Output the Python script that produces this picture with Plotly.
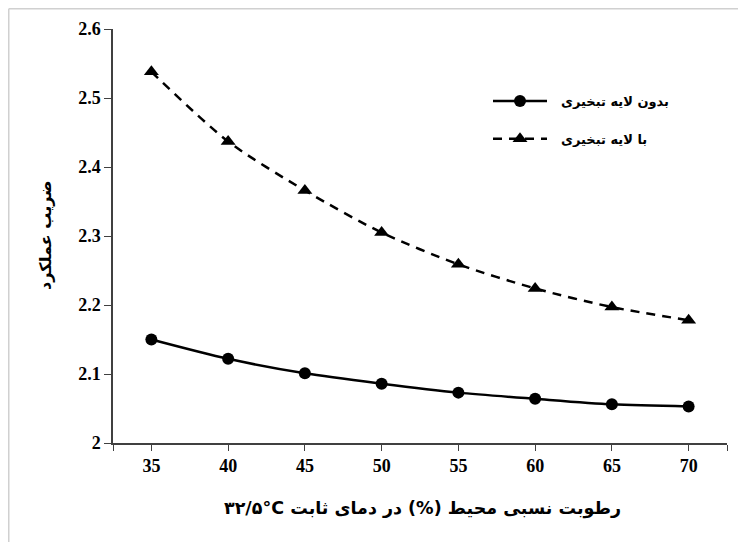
import plotly.graph_objects as go

humidity = [35, 40, 45, 50, 55, 60, 65, 70]
cop_without_layer = [2.150, 2.122, 2.101, 2.086, 2.073, 2.064, 2.056, 2.053]
cop_with_layer = [2.538, 2.437, 2.366, 2.305, 2.259, 2.224, 2.197, 2.178]
name_without = "بدون لایه تبخیری"
name_with = "با لایه تبخیری"
# logical order arranged so the LTR SVG paragraph shows the temperature on the left
x_title = "۳۲/۵°C " + "رطوبت نسبی محیط (%) در دمای ثابت"
y_title = "ضریب عملکرد"
y_ticks = [2.0, 2.1, 2.2, 2.3, 2.4, 2.5, 2.6]
y_ticktext = ["2", "2.1", "2.2", "2.3", "2.4", "2.5", "2.6"]

W, H = 746, 542
L, R, T, B = 105, 27, 21, 107
pw, ph = W - L - R, H - T - B

SERIF = "Liberation Serif, Times New Roman, serif"
ARABIC = "DejaVu Sans"
PAD = "\u00a0\u00a0"

fig = go.Figure()
fig.add_trace(go.Scatter(
    x=humidity, y=cop_without_layer, name=PAD + name_without, mode="lines+markers",
    legendgroup="a",
    line=dict(color="black", width=2.5, shape="spline", smoothing=0.8),
    marker=dict(symbol="circle", size=12, color="black"),
))
fig.add_trace(go.Scatter(
    x=humidity, y=cop_with_layer, name=PAD + name_with, mode="lines+markers",
    legendgroup="b",
    line=dict(color="black", width=2.5, dash="9px,7px", shape="spline", smoothing=0.8),
    marker=dict(symbol="triangle-up", size=13, color="black"),
))

x_tickvals = [32.5] + humidity + [72.5]
x_ticktext = [""] + [str(h) for h in humidity] + [""]

def px_to_paper(px, py):
    return (px - L) / pw, (H - B - py) / ph

fig.update_layout(
    width=W, height=H,
    margin=dict(l=L, r=R, t=T, b=B),
    paper_bgcolor="white", plot_bgcolor="white",
    showlegend=True,
    legend=dict(x=px_to_paper(480, 0)[0], y=px_to_paper(0, 78)[1], xanchor="left", yanchor="top",
                font=dict(family=ARABIC, size=13, color="black", weight="bold"),
                bgcolor="rgba(0,0,0,0)", itemwidth=54, tracegroupgap=18),
    xaxis=dict(range=[32.5, 72.5], tickvals=x_tickvals, ticktext=x_ticktext,
               showgrid=False, zeroline=False, showline=True, linecolor="#404040", linewidth=1.5,
               ticks="outside", ticklen=6, tickcolor="#404040", tickwidth=1.2,
               tickfont=dict(family=SERIF, size=18, color="black", weight="bold")),
    yaxis=dict(range=[2.0, 2.6], tickvals=y_ticks, ticktext=y_ticktext,
               showgrid=False, zeroline=False, showline=True, linecolor="#404040", linewidth=1.5,
               ticks="outside", ticklen=7, tickcolor="#404040", tickwidth=1.2,
               tickfont=dict(family=SERIF, size=18, color="black", weight="bold")),
)

# axis titles
xt_x, xt_y = px_to_paper(414, 500)
fig.add_annotation(text=x_title, xref="paper", yref="paper", x=xt_x, y=xt_y,
                   xanchor="center", yanchor="middle", showarrow=False,
                   font=dict(family=ARABIC, size=17.5, color="black", weight="bold"))
yt_x, yt_y = px_to_paper(37, 227)
fig.add_annotation(text=y_title, xref="paper", yref="paper", x=yt_x, y=yt_y,
                   xanchor="center", yanchor="middle", showarrow=False, textangle=-90,
                   font=dict(family=ARABIC, size=16, color="black", weight="bold"))

# light gray frame (top and left edges visible)
x0, y0 = px_to_paper(0.75, 0.75)
x1, _ = px_to_paper(W, 0.75)
_, y1 = px_to_paper(0.75, H)
fig.add_shape(type="line", xref="paper", yref="paper", x0=x0, y0=y0, x1=x1, y1=y0,
              line=dict(color="#d0d0d0", width=1.5))
fig.add_shape(type="line", xref="paper", yref="paper", x0=x0, y0=y0, x1=x0, y1=y1,
              line=dict(color="#d0d0d0", width=1.5))

fig.write_html("out.html")
